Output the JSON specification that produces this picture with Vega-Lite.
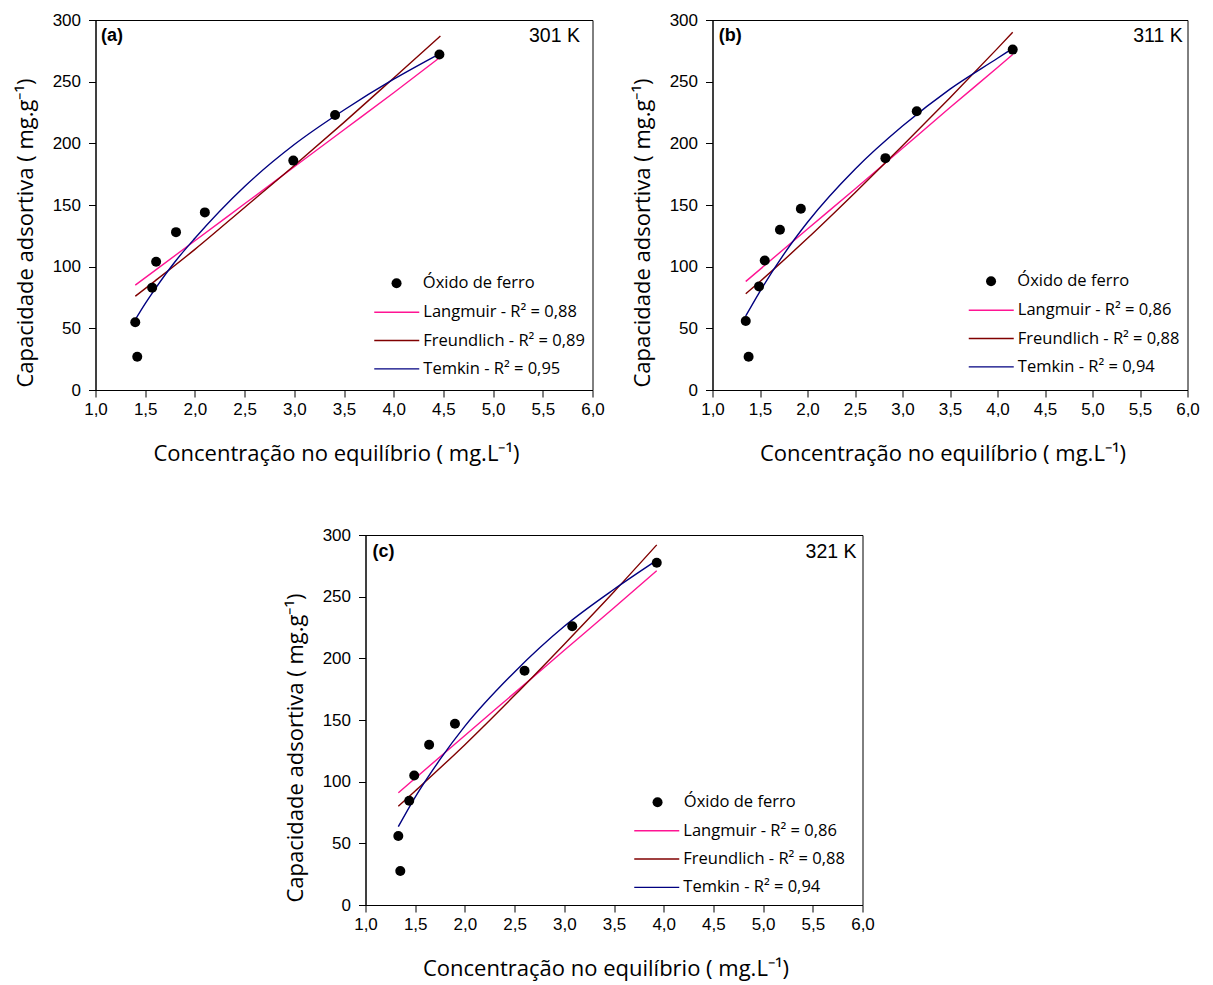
{
  "$schema": "https://vega.github.io/schema/vega-lite/v6.json",
  "autosize": {"type": "pad"},
  "padding": {"left": 13.5, "top": 10, "right": 5, "bottom": 5},
  "background": "white",
  "datasets": {
    "d": [
      {"panel": "a", "series": "Óxido de ferro", "C": 1.40, "q": 55},
      {"panel": "a", "series": "Óxido de ferro", "C": 1.42, "q": 27},
      {"panel": "a", "series": "Óxido de ferro", "C": 1.57, "q": 83},
      {"panel": "a", "series": "Óxido de ferro", "C": 1.61, "q": 104},
      {"panel": "a", "series": "Óxido de ferro", "C": 1.81, "q": 128},
      {"panel": "a", "series": "Óxido de ferro", "C": 2.10, "q": 144},
      {"panel": "a", "series": "Óxido de ferro", "C": 2.99, "q": 186},
      {"panel": "a", "series": "Óxido de ferro", "C": 3.41, "q": 223},
      {"panel": "a", "series": "Óxido de ferro", "C": 4.46, "q": 272},
      {"panel": "a", "series": "Langmuir", "C": 1.40, "q": 85},
      {"panel": "a", "series": "Langmuir", "C": 2.0, "q": 121},
      {"panel": "a", "series": "Langmuir", "C": 2.5, "q": 151},
      {"panel": "a", "series": "Langmuir", "C": 3.0, "q": 181},
      {"panel": "a", "series": "Langmuir", "C": 3.5, "q": 211},
      {"panel": "a", "series": "Langmuir", "C": 4.0, "q": 241},
      {"panel": "a", "series": "Langmuir", "C": 4.47, "q": 270},
      {"panel": "a", "series": "Freundlich", "C": 1.40, "q": 76},
      {"panel": "a", "series": "Freundlich", "C": 1.6, "q": 88.5},
      {"panel": "a", "series": "Freundlich", "C": 2.0, "q": 114},
      {"panel": "a", "series": "Freundlich", "C": 2.5, "q": 148},
      {"panel": "a", "series": "Freundlich", "C": 3.0, "q": 182},
      {"panel": "a", "series": "Freundlich", "C": 3.5, "q": 217},
      {"panel": "a", "series": "Freundlich", "C": 4.0, "q": 253},
      {"panel": "a", "series": "Freundlich", "C": 4.47, "q": 287},
      {"panel": "a", "series": "Temkin", "C": 1.40, "q": 57},
      {"panel": "a", "series": "Temkin", "C": 1.5, "q": 70},
      {"panel": "a", "series": "Temkin", "C": 1.6, "q": 82},
      {"panel": "a", "series": "Temkin", "C": 1.8, "q": 104},
      {"panel": "a", "series": "Temkin", "C": 2.0, "q": 123},
      {"panel": "a", "series": "Temkin", "C": 2.5, "q": 165},
      {"panel": "a", "series": "Temkin", "C": 3.0, "q": 199},
      {"panel": "a", "series": "Temkin", "C": 3.5, "q": 227},
      {"panel": "a", "series": "Temkin", "C": 4.0, "q": 252},
      {"panel": "a", "series": "Temkin", "C": 4.47, "q": 273},
      {"panel": "b", "series": "Óxido de ferro", "C": 1.35, "q": 56},
      {"panel": "b", "series": "Óxido de ferro", "C": 1.38, "q": 27},
      {"panel": "b", "series": "Óxido de ferro", "C": 1.49, "q": 84},
      {"panel": "b", "series": "Óxido de ferro", "C": 1.55, "q": 105},
      {"panel": "b", "series": "Óxido de ferro", "C": 1.71, "q": 130},
      {"panel": "b", "series": "Óxido de ferro", "C": 1.93, "q": 147},
      {"panel": "b", "series": "Óxido de ferro", "C": 2.82, "q": 188},
      {"panel": "b", "series": "Óxido de ferro", "C": 3.15, "q": 226},
      {"panel": "b", "series": "Óxido de ferro", "C": 4.16, "q": 276},
      {"panel": "b", "series": "Langmuir", "C": 1.35, "q": 88},
      {"panel": "b", "series": "Langmuir", "C": 2.0, "q": 130.5},
      {"panel": "b", "series": "Langmuir", "C": 2.5, "q": 163},
      {"panel": "b", "series": "Langmuir", "C": 3.0, "q": 196},
      {"panel": "b", "series": "Langmuir", "C": 3.5, "q": 229},
      {"panel": "b", "series": "Langmuir", "C": 4.0, "q": 261.5},
      {"panel": "b", "series": "Langmuir", "C": 4.16, "q": 272},
      {"panel": "b", "series": "Freundlich", "C": 1.35, "q": 78},
      {"panel": "b", "series": "Freundlich", "C": 1.5, "q": 88},
      {"panel": "b", "series": "Freundlich", "C": 2.0, "q": 123},
      {"panel": "b", "series": "Freundlich", "C": 2.5, "q": 160},
      {"panel": "b", "series": "Freundlich", "C": 3.0, "q": 198},
      {"panel": "b", "series": "Freundlich", "C": 3.5, "q": 237},
      {"panel": "b", "series": "Freundlich", "C": 4.0, "q": 277},
      {"panel": "b", "series": "Freundlich", "C": 4.16, "q": 290},
      {"panel": "b", "series": "Temkin", "C": 1.35, "q": 60},
      {"panel": "b", "series": "Temkin", "C": 1.5, "q": 80},
      {"panel": "b", "series": "Temkin", "C": 1.75, "q": 110},
      {"panel": "b", "series": "Temkin", "C": 2.0, "q": 136},
      {"panel": "b", "series": "Temkin", "C": 2.5, "q": 179},
      {"panel": "b", "series": "Temkin", "C": 3.0, "q": 214},
      {"panel": "b", "series": "Temkin", "C": 3.5, "q": 244},
      {"panel": "b", "series": "Temkin", "C": 4.0, "q": 269},
      {"panel": "b", "series": "Temkin", "C": 4.16, "q": 277},
      {"panel": "c", "series": "Óxido de ferro", "C": 1.33, "q": 56},
      {"panel": "c", "series": "Óxido de ferro", "C": 1.35, "q": 27.5},
      {"panel": "c", "series": "Óxido de ferro", "C": 1.44, "q": 84.5},
      {"panel": "c", "series": "Óxido de ferro", "C": 1.49, "q": 105},
      {"panel": "c", "series": "Óxido de ferro", "C": 1.64, "q": 130},
      {"panel": "c", "series": "Óxido de ferro", "C": 1.90, "q": 147},
      {"panel": "c", "series": "Óxido de ferro", "C": 2.60, "q": 190},
      {"panel": "c", "series": "Óxido de ferro", "C": 3.08, "q": 226},
      {"panel": "c", "series": "Óxido de ferro", "C": 3.93, "q": 277.5},
      {"panel": "c", "series": "Langmuir", "C": 1.33, "q": 91},
      {"panel": "c", "series": "Langmuir", "C": 2.0, "q": 137.5},
      {"panel": "c", "series": "Langmuir", "C": 2.5, "q": 172},
      {"panel": "c", "series": "Langmuir", "C": 3.0, "q": 206.5},
      {"panel": "c", "series": "Langmuir", "C": 3.5, "q": 241},
      {"panel": "c", "series": "Langmuir", "C": 3.93, "q": 271},
      {"panel": "c", "series": "Freundlich", "C": 1.33, "q": 80},
      {"panel": "c", "series": "Freundlich", "C": 1.5, "q": 92.5},
      {"panel": "c", "series": "Freundlich", "C": 2.0, "q": 130},
      {"panel": "c", "series": "Freundlich", "C": 2.5, "q": 170},
      {"panel": "c", "series": "Freundlich", "C": 3.0, "q": 211.5},
      {"panel": "c", "series": "Freundlich", "C": 3.5, "q": 254},
      {"panel": "c", "series": "Freundlich", "C": 3.93, "q": 292},
      {"panel": "c", "series": "Temkin", "C": 1.33, "q": 63.5},
      {"panel": "c", "series": "Temkin", "C": 1.5, "q": 87.5},
      {"panel": "c", "series": "Temkin", "C": 1.75, "q": 118},
      {"panel": "c", "series": "Temkin", "C": 2.0, "q": 145},
      {"panel": "c", "series": "Temkin", "C": 2.5, "q": 189},
      {"panel": "c", "series": "Temkin", "C": 3.0, "q": 226},
      {"panel": "c", "series": "Temkin", "C": 3.5, "q": 256},
      {"panel": "c", "series": "Temkin", "C": 3.93, "q": 279.5}
    ]
  },
  "data": {"name": "d"},
  "config": {
    "font": "Open Sans",
    "view": {"stroke": "#000000", "strokeWidth": 1},
    "axis": {
      "grid": false, "domainColor": "#000000", "domainWidth": 1,
      "tickColor": "#000000", "tickWidth": 1, "tickSize": 7,
      "labelFont": "Liberation Sans", "labelFontSize": 17, "labelColor": "#000000",
      "labelPadding": 5, "labelOverlap": false, "labelFlush": false,
      "titleFont": "Open Sans", "titleFontSize": 22, "titleFontWeight": "normal", "titleColor": "#000000"
    },
    "axisX": {"titlePadding": 26, "labelPadding": 4},
    "axisY": {"titlePadding": 14.5, "labelPadding": 8},
    "legend": {
      "labelFont": "Open Sans", "labelFontSize": 16.5, "labelColor": "#000000", "labelLimit": 400,
      "rowPadding": 11.3, "padding": 0
    }
  },
  "spacing": 60,
  "resolve": {"scale": {"x": "independent", "y": "independent", "color": "independent", "shape": "independent"}},
  "vconcat": [
    {
      "hconcat": [
        {
          "width": 497, "height": 370,
          "layer": [
            {
              "transform": [{"filter": "datum.panel === 'a' && datum.series !== 'Óxido de ferro'"}],
              "mark": {"type": "line", "strokeWidth": 1.4, "interpolate": "monotone"},
              "encoding": {
                "x": {"field": "C", "type": "quantitative", "scale": {"domain": [1, 6], "nice": false, "zero": false},
                  "axis": {"title": "Concentração no equilíbrio (   mg.L⁻¹)", "values": [1, 1.5, 2, 2.5, 3, 3.5, 4, 4.5, 5, 5.5, 6], "labelExpr": "replace(format(datum.value, '.1f'), '.', ',')", "titleX": 240.5}},
                "y": {"field": "q", "type": "quantitative", "scale": {"domain": [0, 300], "nice": false},
                  "axis": {"title": "Capacidade adsortiva (   mg.g⁻¹)", "values": [0, 50, 100, 150, 200, 250, 300], "titleY": 212.5}},
                "color": {"field": "series", "type": "nominal",
                  "scale": {"domain": ["Langmuir", "Freundlich", "Temkin"], "range": ["#ff1493", "#800000", "#000080"]},
                  "legend": {"title": null, "orient": "none", "legendX": 293, "legendY": 284,
                    "symbolType": "M-5,0H5", "symbolSize": 81, "symbolStrokeWidth": 1.4, "labelOffset": 18.3,
                    "labelExpr": "datum.label === 'Langmuir' ? 'Langmuir - R² = 0,88' : datum.label === 'Freundlich' ? 'Freundlich - R² = 0,89' : 'Temkin - R² = 0,95'"}}
              }
            },
            {
              "transform": [{"filter": "datum.panel === 'a' && datum.series === 'Óxido de ferro'"}],
              "mark": {"type": "point", "filled": true, "size": 100, "opacity": 1, "color": "#000000"},
              "encoding": {
                "x": {"field": "C", "type": "quantitative"},
                "y": {"field": "q", "type": "quantitative"},
                "shape": {"datum": "Óxido de ferro", "type": "nominal", "scale": {"range": ["circle"]},
                  "legend": {"title": null, "orient": "none", "legendX": 292.8, "legendY": 255,
                    "symbolSize": 100, "symbolFillColor": "#000000", "symbolStrokeWidth": 0, "labelOffset": 18}}
              }
            },
            {
              "data": {"values": [{"t": "(a)"}]},
              "mark": {"type": "text", "font": "Liberation Sans", "fontWeight": "bold", "fontSize": 18, "align": "left", "baseline": "middle", "color": "#000000"},
              "encoding": {"text": {"field": "t"}, "x": {"datum": 1.055}, "y": {"datum": 287}}
            },
            {
              "data": {"values": [{"t": "301 K"}]},
              "mark": {"type": "text", "font": "Liberation Sans", "fontSize": 19.5, "align": "right", "baseline": "middle", "color": "#000000"},
              "encoding": {"text": {"field": "t"}, "x": {"datum": 5.874}, "y": {"datum": 287}}
            }
          ]
        },
        {
          "width": 475, "height": 370,
          "layer": [
            {
              "transform": [{"filter": "datum.panel === 'b' && datum.series !== 'Óxido de ferro'"}],
              "mark": {"type": "line", "strokeWidth": 1.4, "interpolate": "monotone"},
              "encoding": {
                "x": {"field": "C", "type": "quantitative", "scale": {"domain": [1, 6], "nice": false, "zero": false},
                  "axis": {"title": "Concentração no equilíbrio (   mg.L⁻¹)", "values": [1, 1.5, 2, 2.5, 3, 3.5, 4, 4.5, 5, 5.5, 6], "labelExpr": "replace(format(datum.value, '.1f'), '.', ',')", "titleX": 230}},
                "y": {"field": "q", "type": "quantitative", "scale": {"domain": [0, 300], "nice": false},
                  "axis": {"title": "Capacidade adsortiva (   mg.g⁻¹)", "values": [0, 50, 100, 150, 200, 250, 300], "titleY": 212.5}},
                "color": {"field": "series", "type": "nominal",
                  "scale": {"domain": ["Langmuir", "Freundlich", "Temkin"], "range": ["#ff1493", "#800000", "#000080"]},
                  "legend": {"title": null, "orient": "none", "legendX": 270.5, "legendY": 282,
                    "symbolType": "M-5,0H5", "symbolSize": 81, "symbolStrokeWidth": 1.4, "labelOffset": 18.3,
                    "labelExpr": "datum.label === 'Langmuir' ? 'Langmuir - R² = 0,86' : datum.label === 'Freundlich' ? 'Freundlich - R² = 0,88' : 'Temkin - R² = 0,94'"}}
              }
            },
            {
              "transform": [{"filter": "datum.panel === 'b' && datum.series === 'Óxido de ferro'"}],
              "mark": {"type": "point", "filled": true, "size": 100, "opacity": 1, "color": "#000000"},
              "encoding": {
                "x": {"field": "C", "type": "quantitative"},
                "y": {"field": "q", "type": "quantitative"},
                "shape": {"datum": "Óxido de ferro", "type": "nominal", "scale": {"range": ["circle"]},
                  "legend": {"title": null, "orient": "none", "legendX": 270.3, "legendY": 253,
                    "symbolSize": 100, "symbolFillColor": "#000000", "symbolStrokeWidth": 0, "labelOffset": 18}}
              }
            },
            {
              "data": {"values": [{"t": "(b)"}]},
              "mark": {"type": "text", "font": "Liberation Sans", "fontWeight": "bold", "fontSize": 18, "align": "left", "baseline": "middle", "color": "#000000"},
              "encoding": {"text": {"field": "t"}, "x": {"datum": 1.065}, "y": {"datum": 287}}
            },
            {
              "data": {"values": [{"t": "311 K"}]},
              "mark": {"type": "text", "font": "Liberation Sans", "fontSize": 19.5, "align": "right", "baseline": "middle", "color": "#000000"},
              "encoding": {"text": {"field": "t"}, "x": {"datum": 5.95}, "y": {"datum": 287}}
            }
          ]
        }
      ],
      "spacing": 120,
      "bounds": "flush",
      "resolve": {"scale": {"x": "independent", "y": "independent", "color": "independent", "shape": "independent"}}
    },
    {
      "hconcat": [
        {
          "width": 1, "height": 370,
          "view": {"stroke": "transparent"},
          "data": {"values": []},
          "mark": "point",
          "encoding": {}
        },
        {
          "width": 497, "height": 370,
          "layer": [
            {
              "transform": [{"filter": "datum.panel === 'c' && datum.series !== 'Óxido de ferro'"}],
              "mark": {"type": "line", "strokeWidth": 1.4, "interpolate": "monotone"},
              "encoding": {
                "x": {"field": "C", "type": "quantitative", "scale": {"domain": [1, 6], "nice": false, "zero": false},
                  "axis": {"title": "Concentração no equilíbrio (   mg.L⁻¹)", "values": [1, 1.5, 2, 2.5, 3, 3.5, 4, 4.5, 5, 5.5, 6], "labelExpr": "replace(format(datum.value, '.1f'), '.', ',')", "titleX": 240}},
                "y": {"field": "q", "type": "quantitative", "scale": {"domain": [0, 300], "nice": false},
                  "axis": {"title": "Capacidade adsortiva (   mg.g⁻¹)", "values": [0, 50, 100, 150, 200, 250, 300], "titleY": 212.5}},
                "color": {"field": "series", "type": "nominal",
                  "scale": {"domain": ["Langmuir", "Freundlich", "Temkin"], "range": ["#ff1493", "#800000", "#000080"]},
                  "legend": {"title": null, "orient": "none", "legendX": 283, "legendY": 287.5,
                    "symbolType": "M-5,0H5", "symbolSize": 81, "symbolStrokeWidth": 1.4, "labelOffset": 18.3,
                    "labelExpr": "datum.label === 'Langmuir' ? 'Langmuir - R² = 0,86' : datum.label === 'Freundlich' ? 'Freundlich - R² = 0,88' : 'Temkin - R² = 0,94'"}}
              }
            },
            {
              "transform": [{"filter": "datum.panel === 'c' && datum.series === 'Óxido de ferro'"}],
              "mark": {"type": "point", "filled": true, "size": 100, "opacity": 1, "color": "#000000"},
              "encoding": {
                "x": {"field": "C", "type": "quantitative"},
                "y": {"field": "q", "type": "quantitative"},
                "shape": {"datum": "Óxido de ferro", "type": "nominal", "scale": {"range": ["circle"]},
                  "legend": {"title": null, "orient": "none", "legendX": 283.8, "legendY": 259,
                    "symbolSize": 100, "symbolFillColor": "#000000", "symbolStrokeWidth": 0, "labelOffset": 18}}
              }
            },
            {
              "data": {"values": [{"t": "(c)"}]},
              "mark": {"type": "text", "font": "Liberation Sans", "fontWeight": "bold", "fontSize": 18, "align": "left", "baseline": "middle", "color": "#000000"},
              "encoding": {"text": {"field": "t"}, "x": {"datum": 1.07}, "y": {"datum": 286}}
            },
            {
              "data": {"values": [{"t": "321 K"}]},
              "mark": {"type": "text", "font": "Liberation Sans", "fontSize": 19.5, "align": "right", "baseline": "middle", "color": "#000000"},
              "encoding": {"text": {"field": "t"}, "x": {"datum": 5.94}, "y": {"datum": 286}}
            }
          ]
        }
      ],
      "spacing": 269,
      "bounds": "flush",
      "resolve": {"scale": {"x": "independent", "y": "independent", "color": "independent", "shape": "independent"}}
    }
  ]
}
